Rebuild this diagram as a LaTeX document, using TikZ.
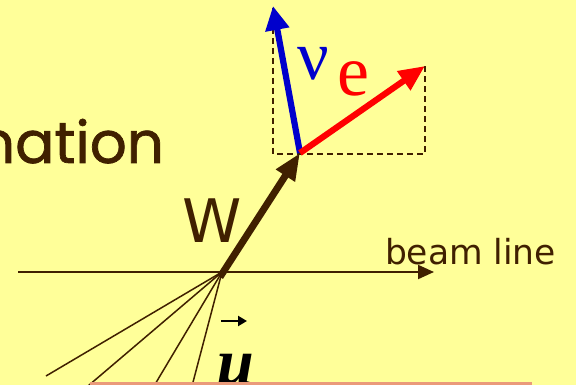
\documentclass[tikz,border=0pt]{standalone}
\usepackage{fontspec}
\setmainfont{Liberation Serif}
\newfontfamily\labelfont{DejaVu Sans}
\newfontfamily\titlefont[FakeBold=1.2]{Poppins}
\usetikzlibrary{arrows.meta}
\definecolor{bgyellow}{RGB}{255,255,153}
\definecolor{dbrown}{RGB}{64,32,0}
\definecolor{nublue}{RGB}{0,0,204}
\definecolor{ered}{RGB}{255,0,0}
\definecolor{barpink}{RGB}{234,154,122}
\tikzset{
  track/.style={draw=dbrown, line width=1.5pt},
  vecarrow/.style={line width=6.2pt},
  comp/.style={draw=dbrown, line width=1.8pt, dash pattern=on 6pt off 4pt},
  txt/.style={inner sep=0pt, outer sep=0pt}
}
\begin{document}
\begin{tikzpicture}[x=1pt,y=-1pt]
\fill[bgyellow] (0,0) rectangle (576,385);
\useasboundingbox (0,0) rectangle (576,385);
% coordinates
\coordinate (v) at (222,272);
\coordinate (wstart) at (220,277);
\coordinate (wtip) at (300,153);
\coordinate (nutip) at (273,6);
\coordinate (etip) at (425,66);
\coordinate (bl) at (273,154);
\coordinate (br) at (425,154);
\coordinate (tl) at (273,8);
\coordinate (beamstart) at (18,272);
\coordinate (beamend) at (434,272);
\coordinate (m1) at (46,376);
\coordinate (m2) at (88,386);
\coordinate (m3) at (154,386);
\coordinate (m4) at (192,386);
% title fragment
\node[txt, anchor=base east, text=dbrown, font=\titlefont\fontsize{58}{62}\selectfont] (title) at (164,163) {nation};
% dashed component box
\draw[comp] (tl) -- (bl) -- (br) -- (etip);
% beam line
\draw[dbrown, line width=2pt, -{Triangle[length=16pt,width=14pt]}] (beamstart) -- (beamend);
\node[txt, anchor=base west, text=dbrown, font=\labelfont\fontsize{34.5}{40}\selectfont] (beam) at (385,264) {beam line};
% muon tracks
\draw[track] (v) -- (m1);
\draw[track] (v) -- (m2);
\draw[track] (v) -- (m3);
\draw[track] (v) -- (m4);
% W arrow
\draw[dbrown, line width=7pt, -{Triangle[length=27pt,width=21pt]}] (wstart) -- (wtip);
\node[txt, anchor=base west, text=dbrown, font=\labelfont\fontsize{60}{66}\selectfont] (W) at (182,242) {W};
% nu and e arrows
\draw[nublue, vecarrow, -{Triangle[length=24pt,width=23pt]}] (wtip) -- (nutip);
\draw[ered, vecarrow, -{Triangle[length=26pt,width=22pt]}] (wtip) -- (etip);
\node[txt, text=nublue, font=\fontsize{70}{74}\selectfont] (nu) at (313,63.5) {ν};
\node[txt, text=ered, font=\fontsize{72}{76}\selectfont] (e) at (353,78.5) {e};
% muon label
\draw[black, line width=2.5pt, -{Triangle[length=9pt,width=10pt]}] (221,321) -- (247,321);
\node[txt, anchor=base, text=black, font=\itshape\bfseries\fontsize{66}{70}\selectfont] (mu) at (236,384) {μ};
% bottom bar
\fill[barpink] (90,382) rectangle (532,386);
\end{tikzpicture}
\end{document}
